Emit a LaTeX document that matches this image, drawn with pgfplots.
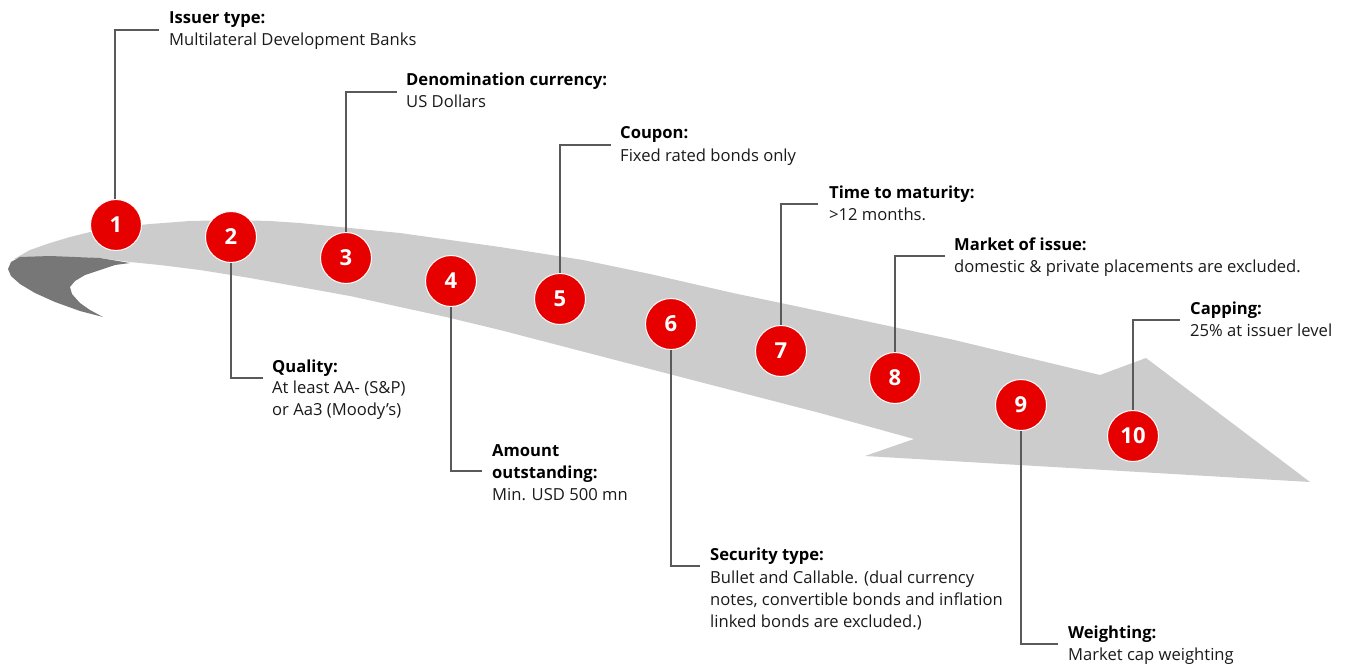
\documentclass[border=0pt]{standalone}
\usepackage{fontspec}
\setmainfont{Open Sans}
\usepackage{pgfplots}
\pgfplotsset{compat=1.18}
\definecolor{ubsred}{HTML}{E60000}
\definecolor{band}{HTML}{CCCCCC}
\definecolor{curl}{HTML}{777777}
\definecolor{lead}{HTML}{595959}
\definecolor{txt}{HTML}{1A1A1A}
\newcommand\fs{\fontsize{16.6}{19}\selectfont}
\newcommand\ttl[3]{\node[anchor=base west,inner sep=0pt,font=\fs\bfseries,text=black] at (axis cs:#1,#2) {#3};}
\newcommand\bdy[3]{\node[anchor=base west,inner sep=0pt,font=\fs,text=txt] at (axis cs:#1,#2) {#3};}
\begin{document}
\begin{tikzpicture}
\begin{axis}[
  width=1352pt, height=666pt, scale only axis,
  xmin=0, xmax=1352, ymin=0, ymax=666, y dir=reverse,
  hide axis, clip=false,
]
\addplot[draw=none, forget plot] coordinates {(0,0) (1352,666)};
% light band with arrow head
\addplot[fill=band, draw=none] coordinates {
 (14,259) (30,250) (50,243) (70,237) (90,232) (120,227) (150,224) (190,221) (233,220)
 (270,221) (300,223) (350,228) (400,233) (450,240) (500,247) (583,260) (650,274)
 (733,293) (800,307) (870,322) (950,339) (1000,351) (1050,363) (1100,375)
 (1146,358) (1310,482) (865,456) (914,439)
 (820,413) (700,382) (600,356) (500,330) (446,317) (400,307) (350,296) (300,287)
 (250,278) (200,270) (160,265) (130,262) (100,258) (60,257) (30,257)
} -- cycle;
% dark curl
\addplot[fill=curl, draw=none] coordinates {
 (20,257) (50,256) (100,258) (130,263) (115,265) (100,270) (85,275) (75,281)
 (70,287) (72,294) (80,303) (90,310) (103,317) (80,311) (55,302) (35,293)
 (20,284) (11,276) (8,269) (11,262)
} -- cycle;
% leader lines
\addplot[lead, line width=1.4pt] coordinates {(115,226) (115,30) (159,30)};
\addplot[lead, line width=1.4pt] coordinates {(231,237) (231,378) (263,378)};
\addplot[lead, line width=1.4pt] coordinates {(346,258) (346,92) (397,92)};
\addplot[lead, line width=1.4pt] coordinates {(451,281) (451,471) (482,471)};
\addplot[lead, line width=1.4pt] coordinates {(560,300) (560,145) (611,145)};
\addplot[lead, line width=1.4pt] coordinates {(671,324) (671,566) (700,566)};
\addplot[lead, line width=1.4pt] coordinates {(781,351) (781,204) (818,204)};
\addplot[lead, line width=1.4pt] coordinates {(895,378) (895,256) (945,256)};
\addplot[lead, line width=1.4pt] coordinates {(1021,405) (1021,644) (1058,644)};
\addplot[lead, line width=1.4pt] coordinates {(1133,436) (1133,320) (1180,320)};
% circles with numbers
\addplot[only marks, mark=*, mark size=25.5pt,
  mark options={fill=ubsred, draw=white, line width=1pt},
  nodes near coords, point meta=explicit symbolic,
  every node near coord/.style={anchor=center, text=white,
    font=\fontsize{22}{22}\selectfont\bfseries, inner sep=0pt}]
 table[meta=n] {
 x y n
 116 225 1
 231 237 2
 346 258 3
 451 281 4
 560 299 5
 671 324 6
 781 351 7
 895 378 8
 1021 405 9
 1133 436 10
};
% labels
\ttl{169}{24}{Issuer type:}
\bdy{169}{46}{Multilateral Development Banks}
\ttl{272}{372}{Quality:}
\bdy{272}{393}{At least AA- (S\&P)}
\bdy{272}{415}{or Aa3 (Moody’s)}
\ttl{406}{86}{Denomination currency:}
\bdy{406}{108}{US Dollars}
\ttl{492}{456}{Amount}
\ttl{492}{478}{outstanding:}
\bdy{492}{500}{Min. USD 500 mn}
\ttl{620}{139}{Coupon:}
\bdy{620}{161}{Fixed rated bonds only}
\ttl{710}{560}{Security type:}
\bdy{710}{583}{Bullet and Callable. (dual currency}
\bdy{710}{605}{notes, convertible bonds and inflation}
\bdy{710}{627}{linked bonds are excluded.)}
\ttl{829}{198}{Time to maturity:}
\bdy{829}{220}{>12 months.}
\ttl{954}{250}{Market of issue:}
\bdy{954}{272}{domestic \& private placements are excluded.}
\ttl{1068}{638}{Weighting:}
\bdy{1068}{660}{Market cap weighting}
\ttl{1190}{314}{Capping:}
\bdy{1190}{336}{25\% at issuer level}
\end{axis}
\end{tikzpicture}
\end{document}
